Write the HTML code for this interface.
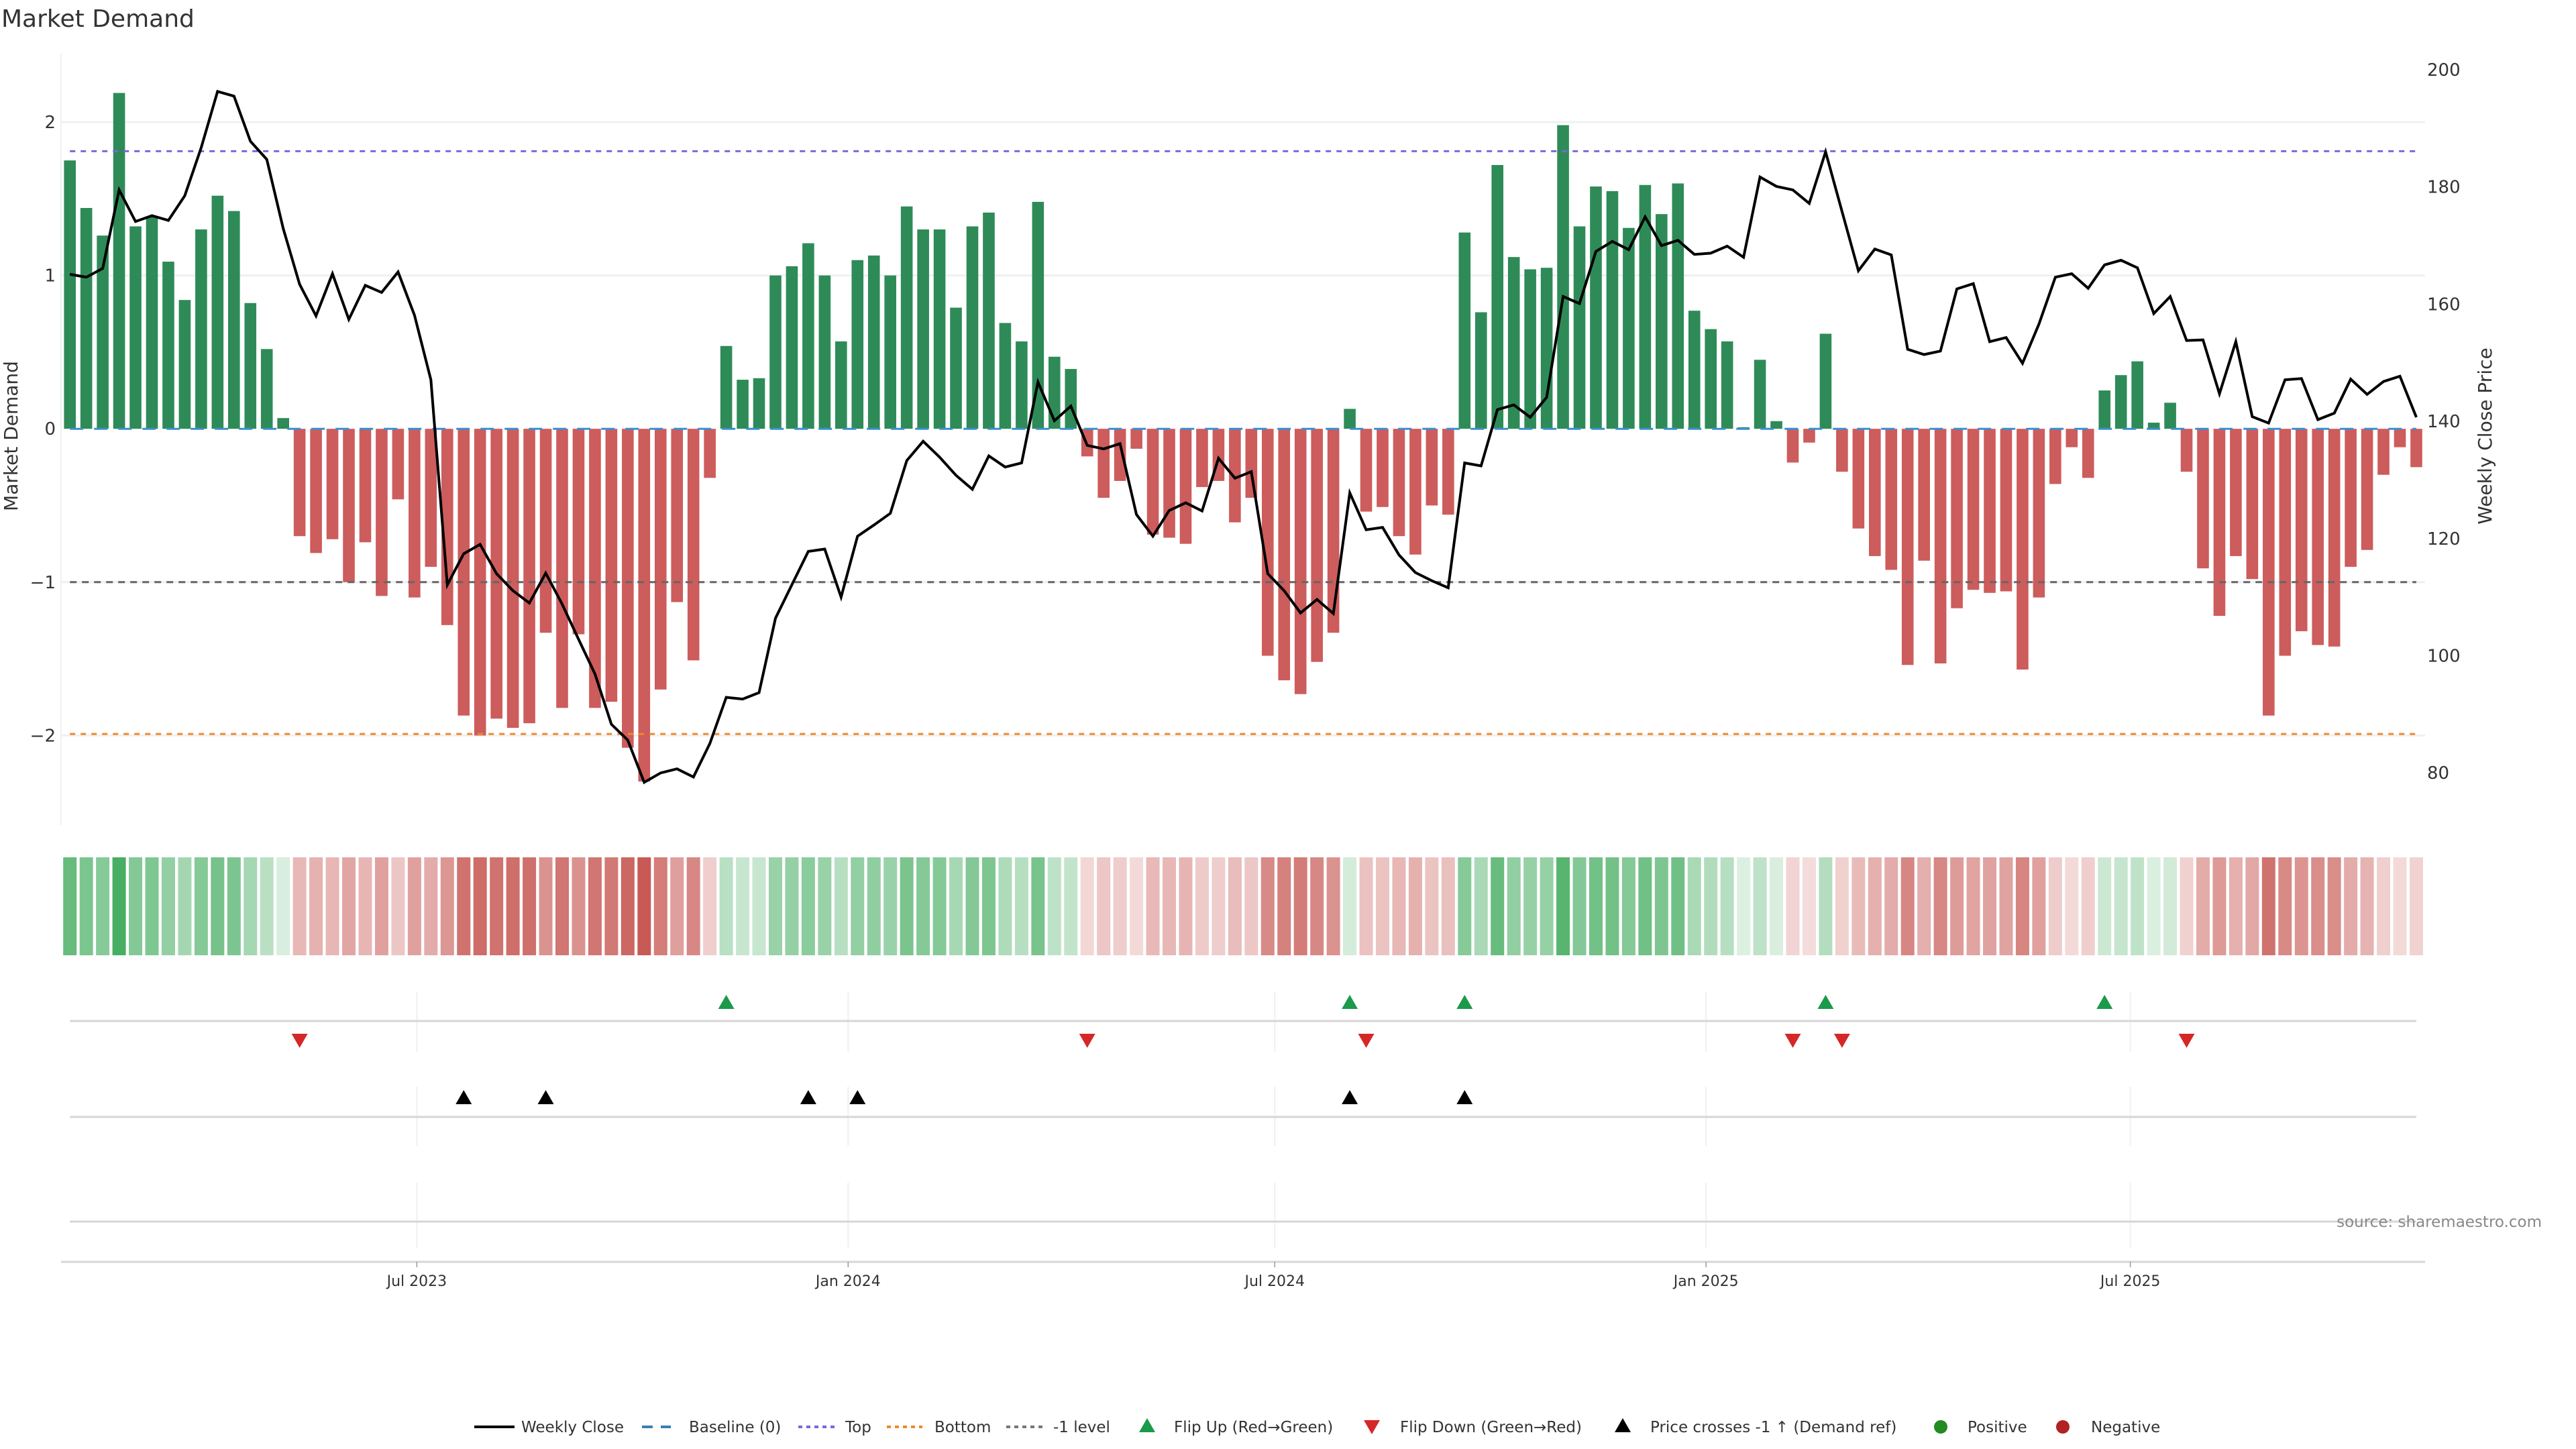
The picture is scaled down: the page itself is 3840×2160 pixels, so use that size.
<!DOCTYPE html>
<html><head><meta charset="utf-8"><style>
html,body{margin:0;padding:0;background:#fff;}
svg{display:block;font-family:"DejaVu Sans","Liberation Sans",sans-serif;}
</style></head><body>
<svg id="chart" width="3840" height="2160" viewBox="0 0 3840 2160" xmlns="http://www.w3.org/2000/svg">
<rect x="0" y="0" width="3840" height="2160" fill="#fff"/>
<text x="2" y="40" font-size="36" fill="#333">Market Demand</text>
<g id="main"></g>
<g id="heat"></g>
<g id="signals"></g>
<g id="xaxis"></g>
<text x="3789" y="1829" font-size="23" fill="#888" text-anchor="end">source: sharemaestro.com</text>
<g id="legend"></g>
</svg>
<script>
const demand = [1.75,1.44,1.26,2.19,1.32,1.38,1.09,0.84,1.30,1.52,1.42,0.82,0.52,0.07,-0.70,-0.81,-0.72,-1.00,-0.74,-1.09,-0.46,-1.10,-0.90,-1.28,-1.87,-2.00,-1.89,-1.95,-1.92,-1.33,-1.82,-1.34,-1.82,-1.78,-2.08,-2.30,-1.70,-1.13,-1.51,-0.32,
0.54,0.32,0.33,1.00,1.06,1.21,1.00,0.57,1.10,1.13,1.00,1.45,1.30,1.30,0.79,1.32,1.41,0.69,0.57,1.48,0.47,0.39,-0.18,-0.45,-0.34,-0.13,-0.69,-0.71,-0.75,-0.38,-0.34,-0.61,-0.45,-1.48,-1.64,-1.73,-1.52,-1.33,0.13,-0.54,
-0.51,-0.70,-0.82,-0.50,-0.56,1.28,0.76,1.72,1.12,1.04,1.05,1.98,1.32,1.58,1.55,1.31,1.59,1.40,1.60,0.77,0.65,0.57,0.01,0.45,0.05,-0.22,-0.09,0.62,-0.28,-0.65,-0.83,-0.92,-1.54,-0.86,-1.53,-1.17,-1.05,-1.07,-1.06,-1.57,
-1.10,-0.36,-0.12,-0.32,0.25,0.35,0.44,0.04,0.17,-0.28,-0.91,-1.22,-0.83,-0.98,-1.87,-1.48,-1.32,-1.41,-1.42,-0.90,-0.79,-0.30,-0.12,-0.25];
const price = [165.1,164.6,166.1,179.5,174.1,175.1,174.3,178.5,186.7,196.3,195.5,187.8,184.7,172.9,163.4,158.0,165.2,157.4,163.2,162.0,165.5,158.1,147.1,112.1,117.4,119.0,114.0,111.1,109.0,114.1,108.8,102.8,96.9,88.3,85.6,78.4,80.0,80.7,79.3,85.0,
92.9,92.6,93.7,106.4,112.1,117.8,118.2,110.0,120.4,122.3,124.3,133.3,136.6,133.9,130.8,128.4,134.1,132.2,132.9,146.7,140.1,142.6,135.9,135.3,136.2,124.1,120.4,124.8,126.1,124.7,133.7,130.3,131.4,114.0,111.1,107.3,109.6,107.2,127.8,121.5,
121.9,117.2,114.2,112.8,111.6,132.9,132.4,142.0,142.8,140.7,144.1,161.3,160.1,169.0,170.7,169.3,174.9,170.0,170.9,168.5,168.7,169.9,168.0,181.7,180.1,179.5,177.2,186.0,175.8,165.7,169.4,168.4,152.3,151.4,152.0,162.6,163.5,153.6,154.3,149.9,
156.6,164.6,165.2,162.7,166.7,167.5,166.2,158.4,161.3,153.8,153.9,144.7,153.6,140.8,139.7,147.1,147.3,140.3,141.4,147.2,144.6,146.8,147.7,140.7];
const startDate = "2023-02-03";
const tickDates = ["2023-07-01","2024-01-01","2024-07-01","2025-01-01","2025-07-01"];
const tickLabels = ["Jul 2023","Jan 2024","Jul 2024","Jan 2025","Jul 2025"];
const demandTicks = [2,1,0,-1,-2];
const demandTickLabels = ["2","1","0","\u22121","\u22122"];
const priceTicks = [200,180,160,140,120,100,80];
const topLevel = 1.81;
const bottomLevel = -1.99;
const minusLevel = -1;

const NS="http://www.w3.org/2000/svg";
function mk(parent,tag,attrs){const e=document.createElementNS(NS,tag);for(const k in attrs)e.setAttribute(k,attrs[k]);parent.appendChild(e);return e;}
const DAY=86400000, t0=Date.parse(startDate+"T00:00:00Z");
const X0=104.2, STEP=24.46;
function xDate(s){return X0+(Date.parse(s+"T00:00:00Z")-t0)/(7*DAY)*STEP;}
function xi(i){return X0+i*STEP;}
function yD(v){return 639.2-228.6*v;}
function yP(p){return 628.1-8.735*(p-140);}
function pFromY(y){return 140-(y-628.1)/8.735;}
const xL=91, xR=3615, xFirst=xi(0), xLast=xi(demand.length-1);

const main=document.getElementById('main');
demandTicks.forEach((v,k)=>{
  if(v!==0){const g=mk(main,'line',{x1:xL,x2:xR,y1:yD(v),y2:yD(v),stroke:'#eef0f2','stroke-width':3});
  
  }
  const t=mk(main,'text',{x:83,y:yD(v)+9,'font-size':26,fill:'#333','text-anchor':'end'});
  t.textContent=demandTickLabels[k];
  
  
});
const ax=mk(main,'line',{x1:xL,x2:xL,y1:80,y2:1230,stroke:'#eef0f2','stroke-width':2});


priceTicks.forEach(p=>{
  const t=mk(main,'text',{x:3618,y:yP(p)+9,'font-size':26,fill:'#333'});
  t.textContent=String(p);
  
  
});
const yt=mk(main,'text',{x:0,y:0,'font-size':28,fill:'#333','text-anchor':'middle',transform:'translate(26,650) rotate(-90)'});
yt.textContent='Market Demand';


const yt2=mk(main,'text',{x:0,y:0,'font-size':28,fill:'#333','text-anchor':'middle',transform:'translate(3714,650) rotate(-90)'});
yt2.textContent='Weekly Close Price';


demand.forEach((v,i)=>{
  const y0=yD(0), y1=yD(v);
  const r=mk(main,'rect',{x:xi(i)-8.8,y:Math.min(y0,y1),width:17.6,height:Math.max(Math.abs(y1-y0),0.5),fill:v>=0?'#2e8b57':'#cd5c5c'});
  
  
});
function refLine(v,color,dash,name){
  const l=mk(main,'line',{x1:xFirst,x2:xLast,y1:yD(v),y2:yD(v),stroke:color,'stroke-width':3,'stroke-dasharray':dash});
  
  
}
refLine(0,'#3a8fd0','20 16','baseline-zero');
refLine(topLevel,'#7b68d8','8 8','top-level-line');
refLine(bottomLevel,'#f0892a','8 8','bottom-level-line');
refLine(minusLevel,'#666','10 8','minus-one-level-line');
const pl=mk(main,'polyline',{points:price.map((p,i)=>xi(i).toFixed(1)+','+yP(p).toFixed(1)).join(' '),fill:'none',stroke:'#000','stroke-width':4,'stroke-linejoin':'miter'});



const heat=document.getElementById('heat');
const maxAbs=Math.max(...demand.map(Math.abs));
function mix(c,t){return 'rgb('+c.map(ch=>Math.round(255+(ch-255)*t)).join(',')+')';}
demand.forEach((v,i)=>{
  const t=0.18+0.82*Math.abs(v)/maxAbs;
  const c=mk(heat,'rect',{x:xi(i)-10,y:1278,width:20,height:146,fill:v>=0?mix([65,171,93],t):mix([200,90,85],t)});
  
  
});

const sig=document.getElementById('signals');
tickDates.forEach(d=>{
  const x=xDate(d);
  [[1479,1568],[1620,1708],[1763,1860]].forEach(r=>{
    const g=mk(sig,'line',{x1:x,x2:x,y1:r[0],y2:r[1],stroke:'#eef0f2','stroke-width':2});
    
    
  });
});
[1522,1665,1821].forEach(y=>{
  const l=mk(sig,'line',{x1:xFirst,x2:xLast,y1:y,y2:y,stroke:'#d6d6d6','stroke-width':3});
  
  
});
function tri(g,x,y,up,color,name){
  const pts=up?[[x,y-11],[x-12,y+10],[x+12,y+10]]:[[x,y+11],[x-12,y-10],[x+12,y-10]];
  const p=mk(g,'polygon',{points:pts.map(q=>q.join(',')).join(' '),fill:color});
  
  
}
const crossLevel=pFromY(yD(minusLevel));
for(let i=1;i<demand.length;i++){
  if(demand[i-1]<0&&demand[i]>=0)tri(sig,xi(i),1494,true,'#1a9a4a','flip-up-marker');
  if(demand[i-1]>=0&&demand[i]<0)tri(sig,xi(i),1551,false,'#d62728','flip-down-marker');
  if(price[i-1]<crossLevel&&price[i]>=crossLevel)tri(sig,xi(i),1636,true,'#000','price-cross-marker');
}

const xa=document.getElementById('xaxis');
const al=mk(xa,'line',{x1:xL,x2:xR,y1:1881,y2:1881,stroke:'#d6d6d6','stroke-width':3});


tickDates.forEach((d,k)=>{
  const x=xDate(d);
  const tk=mk(xa,'line',{x1:x,x2:x,y1:1881,y2:1889,stroke:'#999','stroke-width':1.5});
  
  
  const t=mk(xa,'text',{x:x,y:1917,'font-size':22,fill:'#333','text-anchor':'middle'});
  t.textContent=tickLabels[k];
  
  
});

const lg=document.getElementById('legend');
const LY=2127;
function ltext(x,s){const t=mk(lg,'text',{x:x,y:LY+8,'font-size':23,fill:'#333'});t.textContent=s;

}
function lline(x1,x2,color,dash,w,name){const l=mk(lg,'line',{x1:x1,x2:x2,y1:LY,y2:LY,stroke:color,'stroke-width':w,'stroke-dasharray':dash});

}
lline(707,767,'#000','none',4,'legend-weekly-close'); ltext(777,'Weekly Close');
lline(957,1000,'#3a7fb0','16 12',4,'legend-baseline'); ltext(1027,'Baseline (0)');
lline(1190,1244,'#7b68d8','6 6',4,'legend-top'); ltext(1260,'Top');
lline(1322,1375,'#f0892a','6 6',4,'legend-bottom'); ltext(1393,'Bottom');
lline(1500,1556,'#777','6 6',4,'legend-minus-one'); ltext(1570,'-1 level');
tri(lg,1710,LY-2,true,'#1a9a4a','legend-flip-up'); ltext(1750,'Flip Up (Red\u2192Green)');
tri(lg,2045,LY,false,'#d62728','legend-flip-down'); ltext(2087,'Flip Down (Green\u2192Red)');
tri(lg,2419,LY-2,true,'#000','legend-price-cross'); ltext(2460,'Price crosses -1 \u2191 (Demand ref)');
const c1=mk(lg,'circle',{cx:2893,cy:LY,r:10,fill:'#228b22'});


ltext(2933,'Positive');
const c2=mk(lg,'circle',{cx:3075,cy:LY,r:10,fill:'#b22222'});


ltext(3117,'Negative');
</script>
</body></html>
